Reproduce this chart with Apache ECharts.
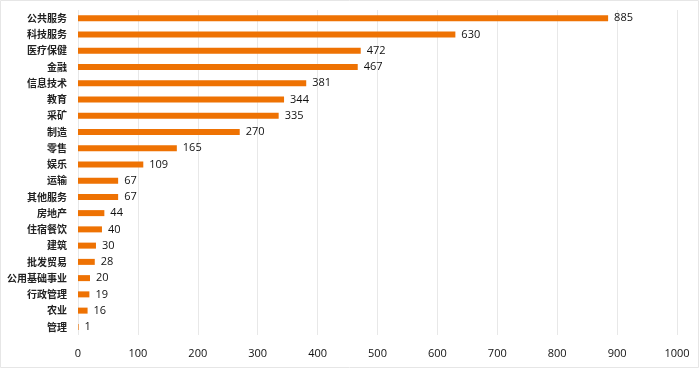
<!DOCTYPE html>
<html><head><meta charset="utf-8">
<script src="https://cdn.jsdelivr.net/npm/echarts@6/dist/echarts.min.js"></script>
<style>html,body{margin:0;padding:0;background:#fff}#c{width:699px;height:368px}</style>
</head><body><div id="c"></div>
<script>
const categories = ["公共服务","科技服务","医疗保健","金融","信息技术","教育","采矿","制造","零售","娱乐","运输","其他服务","房地产","住宿餐饮","建筑","批发贸易","公用基础事业","行政管理","农业","管理"];
const values = [885,630,472,467,381,344,335,270,165,109,67,67,44,40,30,28,20,19,16,1];
const xTicks = [0,100,200,300,400,500,600,700,800,900,1000];
const chart = echarts.init(document.getElementById('c'));
const cjk = '"Noto Sans CJK SC",sans-serif';
const num = '"Open Sans","Noto Sans",sans-serif';
chart.setOption({
  animation:false,
  graphic:[{type:'rect',shape:{x:0.5,y:0.5,width:698,height:367},style:{fill:'none',stroke:'#e6e6e6',lineWidth:1},silent:true}],
  grid:{left:78,right:22,top:10,bottom:33,containLabel:false},
  xAxis:{type:'value',min:xTicks[0],max:xTicks[xTicks.length-1],interval:100,
    axisLine:{show:false},axisTick:{show:false},
    splitLine:{lineStyle:{color:'#e8e8e8'}},
    axisLabel:{color:'#111',fontSize:11,fontFamily:num,margin:13,formatter:v=>String(v)}},
  yAxis:{type:'category',inverse:true,data:categories,
    axisLine:{show:false},axisTick:{show:false},
    axisLabel:{color:'#222',fontSize:10,fontWeight:'bold',fontFamily:cjk,margin:11}},
  series:[{type:'bar',data:values,barWidth:6,itemStyle:{color:'#EE7203'},
    label:{show:true,position:'right',distance:6,color:'#111',fontSize:11,fontFamily:num}}]
});
</script></body></html>
